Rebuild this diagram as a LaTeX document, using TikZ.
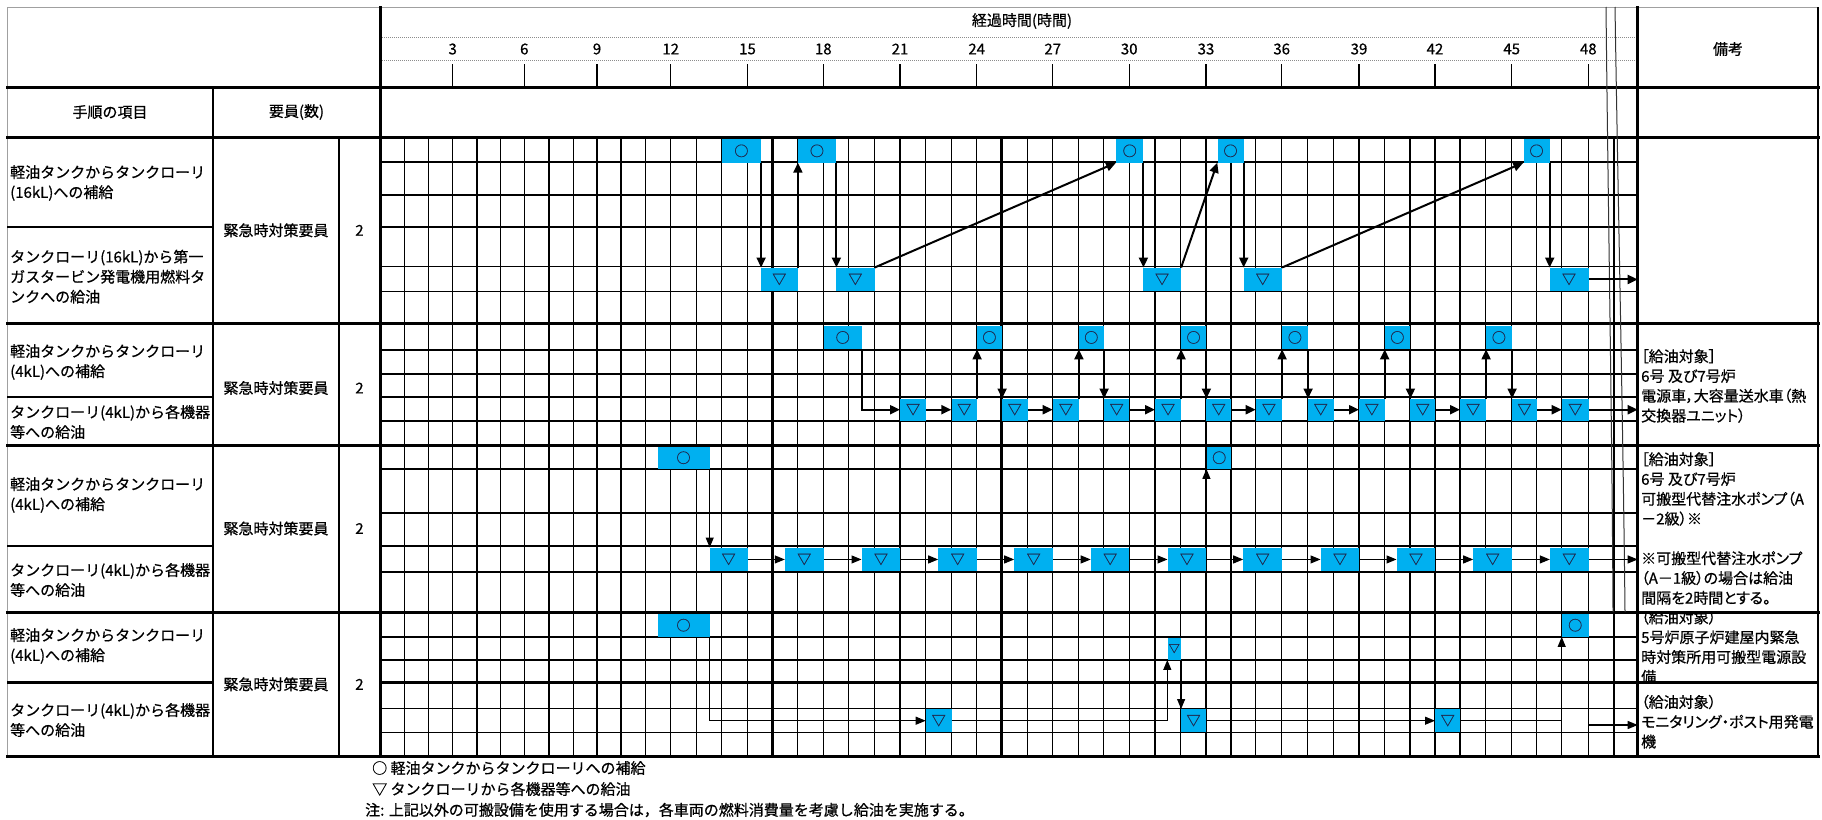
\documentclass[tikz,border=0pt]{standalone}
\usepackage{fontspec}
\setmainfont{Noto Sans CJK JP}[RawFeature={embolden=0.6}]
\newfontfamily\pfont{Noto Sans CJK JP}[RawFeature={+palt;embolden=0.6}]
\usetikzlibrary{arrows.meta}
\definecolor{boxblue}{HTML}{00B0F0}
\definecolor{glyph}{HTML}{1F2A50}
\definecolor{dotgray}{HTML}{8C8C8C}
\definecolor{bordergray}{HTML}{A0A0A0}
\newcommand\gbx[6]{\node[gbox, minimum width={#4-#3}, minimum height={#6-#5}] (#1) at (#3,#5) {#2};}
\begin{document}
\begin{tikzpicture}[x=1pt,y=-1pt,
  gbox/.style={fill=boxblue, inner sep=0pt, anchor=north west, text=glyph, font=\fontsize{14}{14}\selectfont},
  arrA/.style={line width=2pt, -{Triangle[length=10pt,width=9pt]}},
  arrC/.style={line width=1.1pt, -{Triangle[length=10pt,width=8pt]}},
  ltxt/.style={font=\fontsize{15}{20}\selectfont, align=left, anchor=west, inner sep=0pt},
  rtxt/.style={font=\pfont\fontsize{15}{19.8}\selectfont, align=left, anchor=west, inner sep=0pt},
  ctxt/.style={font=\fontsize{15}{18}\selectfont, inner sep=0pt},
  hlab/.style={font=\fontsize{15}{15}\selectfont, inner sep=0pt},
  secline/.style={line width=3pt, line cap=rect},
  colline/.style={line width=2.6pt, line cap=rect},
  divline/.style={line width=2.2pt},
  brk/.style={line width=1pt, black!80}
]
\useasboundingbox (0,0) rectangle (1822,819);
\fill[white] (0,0) rectangle (1822,819);

% ---------- grid ----------
\foreach \x/\w in {404.3/1.2, 428.7/1.2, 452.7/1.2, 477/1.2, 500.7/1.2, 524.3/1.2, 549/1.2, 573.3/1.2, 597/2.6, 621/1.2, 645.3/1.2, 670.7/1.2, 696.3/1.2, 721.7/1.2, 747.5/1.2, 772.5/2.6, 797.5/1.2, 823.3/1.2, 848.8/1.2, 874.3/1.2, 900/1.2, 925.7/1.2, 951.3/1.2, 976.7/1.2, 1001.7/2.6, 1027.3/1.2, 1052.7/1.2, 1078.5/1.2, 1103.7/1.2, 1129.2/1.2, 1155/1.2, 1180.7/1.2, 1206/2.6, 1231/1.6, 1255.7/1.2, 1281.7/1.2, 1307.7/1.2, 1333.3/1.2, 1359/1.2, 1384.3/1.2, 1410/1.2, 1435/2.6, 1460/1.2, 1485.7/1.2, 1511.7/1.2, 1536.7/1.2, 1561.7/1.2, 1588.3/1.2, 1614/1.2}
  \draw[line width=\w pt] (\x,137.3) -- (\x,756.7);
\foreach \y/\w in {162.3/1.8, 195/1.2, 226.7/2.2, 266.7/1.2, 291.7/1.2, 350/1.8, 374/1.2, 397/2.2, 421/1.2, 469/1.8, 513.3/1.8, 546/2.2, 572/1.2, 636.7/1.8, 660/1.2, 682.5/2.2, 708.3/1.2, 732.7/1.2}
  \draw[line width=\w pt] (380,\y) -- (1637.7,\y);

% ---------- header ----------
\draw[dotgray, line width=0.8pt, dash pattern=on 1pt off 1pt] (380,37.7) -- (1637.7,37.7);
\draw[dotgray, line width=0.8pt, dash pattern=on 1pt off 1pt] (380,60) -- (1637.7,60);
\foreach \x/\t/\w in {452.7/3/1.2, 524.3/6/1.2, 597/9/2.6, 670.7/12/1.2, 747.5/15/1.2, 823.3/18/1.2, 900/21/1.2, 976.7/24/1.2, 1052.7/27/1.2, 1129.2/30/1.2, 1206/33/2.6, 1281.7/36/1.2, 1359/39/1.2, 1435/42/2.6, 1511.7/45/1.2, 1588.3/48/1.2}{
  \draw[line width=\w pt] (\x,64) -- (\x,87);
  \node[hlab] (hl\t) at (\x,49) {\t};
}
\node[ctxt] (title) at (1022,21) {経過時間(時間)};
\node[ctxt] (biko) at (1728,49) {備考};
\node[ctxt] (hdr1) at (110,112) {手順の項目};
\node[ctxt] (hdr2) at (296.5,112) {要員(数)};

% ---------- table frame ----------
\draw[bordergray, line width=1pt] (7,7) -- (1818,7);
\draw[bordergray, line width=1pt] (7,7) -- (7,756.7);
\draw[line width=1.2pt] (1818,7) -- (1818,756.7);
\foreach \y in {87,137.3,323.3,445,612,756.7}
  \draw[secline] (7,\y) -- (1818,\y);
\foreach \y in {226.7,397,546,682.5}
  \draw[divline] (7,\y) -- (213,\y);
\draw[divline] (1637.7,682.5) -- (1818,682.5);
\draw[colline] (213,87) -- (213,756.7);
\draw[colline] (339,137.3) -- (339,756.7);
\draw[secline] (380,7) -- (380,756.7);
\draw[secline] (1637.7,7) -- (1637.7,756.7);
\coordinate (chartend) at (1637.7,0);

% ---------- break lines ----------
\draw[brk] (1606,7) .. controls (1608,200) and (1612,420) .. (1613,612);
\draw[brk] (1615,7) .. controls (1618,200) and (1623,420) .. (1625,612);

% ---------- left column texts ----------
\node[ltxt] (s1a) at (10,183) {軽油タンクからタンクローリ\\(16kL)への補給};
\node[ltxt] (s1b) at (10,276.7) {タンクローリ(16kL)から第一\\ガスタービン発電機用燃料タ\\ンクへの給油};
\node[ltxt] (s2a) at (10,362) {軽油タンクからタンクローリ\\(4kL)への補給};
\node[ltxt] (s2b) at (10,422) {タンクローリ(4kL)から各機器\\等への給油};
\node[ltxt] (s3a) at (10,495) {軽油タンクからタンクローリ\\(4kL)への補給};
\node[ltxt] (s3b) at (10,580) {タンクローリ(4kL)から各機器\\等への給油};
\node[ltxt] (s4a) at (10,646) {軽油タンクからタンクローリ\\(4kL)への補給};
\node[ltxt] (s4b) at (10,720) {タンクローリ(4kL)から各機器\\等への給油};
\foreach \n/\y in {1/230.3, 2/388, 3/528.5, 4/684.3}{
  \node[ctxt] (staff\n) at (276,\y) {緊急時対策要員};
  \node[ctxt] (num\n) at (359.5,\y) {2};
}

% ---------- right column texts ----------
\node[rtxt] (r2) at (1641,386) {［給油対象］\\6号 及び7号炉\\電源車，大容量送水車（熱\\交換器ユニット）};
\node[rtxt] (r3) at (1641,528.5) {［給油対象］\\6号 及び7号炉\\可搬型代替注水ポンプ（A\\－2級）※\\[19.8pt]※可搬型代替注水ポンプ\\（A－1級）の場合は給油\\間隔を2時間とする。};
\begin{scope}
\clip (1639,613.5) rectangle (1817,681.4);
\node[rtxt] (r4a) at (1641,647) {（給油対象）\\5号炉原子炉建屋内緊急\\時対策所用可搬型電源設\\備};
\end{scope}
\node[rtxt] (r4b) at (1641,721.7) {（給油対象）\\モニタリング・ポスト用発電\\機};

% ---------- section 1 ----------
\gbx{s1o1}{○}{721.7}{760.7}{139}{162.3}
\gbx{s1o2}{○}{797.5}{836}{139}{162.3}
\gbx{s1o3}{○}{1116}{1143}{139}{162.3}
\gbx{s1o4}{○}{1217.3}{1243.3}{139}{162.3}
\gbx{s1o5}{○}{1523.3}{1549.3}{139}{162.3}
\gbx{s1v1}{▽}{760.7}{797.5}{267.5}{291}
\gbx{s1v2}{▽}{836}{874.3}{267.5}{291}
\gbx{s1v3}{▽}{1143}{1180.7}{267.5}{291}
\gbx{s1v4}{▽}{1243.3}{1281.7}{267.5}{291}
\gbx{s1v5}{▽}{1549.3}{1588.3}{267.5}{291}
\draw[arrA] (s1o1.south east) -- (s1o1.south east |- s1v1.north);
\draw[arrA] (s1v1.north east) -- (s1v1.north east |- s1o2.south);
\draw[arrA] (s1o2.south east) -- (s1o2.south east |- s1v2.north);
\draw[arrA] (s1v2.north east) -- (s1o3.south west);
\draw[arrA] (s1o3.south east) -- (s1o3.south east |- s1v3.north);
\draw[arrA] (s1v3.north east) -- (s1o4.south west);
\draw[arrA] (s1o4.south east) -- (s1o4.south east |- s1v4.north);
\draw[arrA] (s1v4.north east) -- (s1o5.south west);
\draw[arrA] (s1o5.south east) -- (s1o5.south east |- s1v5.north);
\draw[arrA] (s1v5.east) -- (s1v5.east -| chartend);

% ---------- section 2 ----------
\gbx{s2oa}{○}{823.3}{861.7}{325.5}{349}
\gbx{s2ob}{○}{976.7}{1001.7}{325.5}{349}
\gbx{s2oc}{○}{1078.5}{1103.7}{325.5}{349}
\gbx{s2od}{○}{1180.7}{1206}{325.5}{349}
\gbx{s2oe}{○}{1281.7}{1307.7}{325.5}{349}
\gbx{s2of}{○}{1384.3}{1410}{325.5}{349}
\gbx{s2og}{○}{1485.7}{1511.7}{325.5}{349}
\foreach \h/\a/\b in {21/900/925.7, 23/951.3/976.7, 25/1001.7/1027.3, 27/1052.7/1078.5, 29/1103.7/1129.2, 31/1155/1180.7, 33/1206/1231, 35/1255.7/1281.7, 37/1307.7/1333.3, 39/1359/1384.3, 41/1410/1435, 43/1460/1485.7, 45/1511.7/1536.7, 47/1561.7/1588.3}
  {\gbx{s2v\h}{▽}{\a}{\b}{398.5}{420.5}}
\draw[arrA] (s2oa.south east) |- (s2v21.west);
\foreach \a/\b in {21/23, 25/27, 29/31, 33/35, 37/39, 41/43, 45/47}
  \draw[arrA] (s2v\a.east) -- (s2v\b.west);
\foreach \a/\o/\b in {23/b/25, 27/c/29, 31/d/33, 35/e/37, 39/f/41, 43/g/45}{
  \draw[arrA] (s2v\a.north east) -- (s2v\a.north east |- s2o\o.south);
  \draw[arrA] (s2o\o.south east) -- (s2o\o.south east |- s2v\b.north);
}
\draw[arrA] (s2v47.east) -- (s2v47.east -| chartend);

% ---------- section 3 ----------
\gbx{s3o1}{○}{657.3}{709.3}{446.5}{468.5}
\gbx{s3o2}{○}{1207}{1231}{446.5}{468.5}
\foreach \h/\a/\b in {15/709.3/747.5, 18/784.8/823.3, 21/861.5/900, 24/938.2/976.7, 27/1014.2/1052.7, 30/1090.7/1129.2, 33/1167.5/1206, 36/1243.2/1281.7, 39/1320.5/1359, 42/1396.5/1435, 45/1473.2/1511.7, 48/1549.8/1588.3}
  {\gbx{s3v\h}{▽}{\a}{\b}{547.5}{571}}
\draw[arrC] (s3o1.south east) -- (s3o1.south east |- s3v15.north);
\foreach \a/\b in {15/18, 18/21, 21/24, 24/27, 27/30, 30/33, 33/36, 36/39, 39/42, 42/45, 45/48}
  \draw[arrC] (s3v\a.east) -- (s3v\b.west);
\draw[arrC] (s3v33.north east) -- (s3v33.north east |- s3o2.south);
\draw[arrC] (s3v48.east) -- (s3v48.east -| chartend);

% ---------- section 4 ----------
\gbx{s4o1}{○}{657.3}{709.3}{613.5}{636.5}
\gbx{s4o2}{○}{1561.7}{1588.3}{613.5}{636.5}
\node[gbox, font=\fontsize{11}{11}\selectfont, minimum width=13.4, minimum height=22] (s4sv) at (1167.3,637.5) {▽};
\gbx{s4v22}{▽}{925.7}{951.3}{709}{732}
\gbx{s4v32}{▽}{1180.7}{1206}{709}{732}
\gbx{s4v42}{▽}{1435}{1460}{709}{732}
\draw[arrC] (s4o1.south east) |- (s4v22.west);
\draw[arrC] (s4v22.east) -| (s4sv.south west);
\draw[arrC] (s4sv.south east) -- (s4sv.south east |- s4v32.north);
\draw[arrC] (s4v32.east) -- (s4v42.west);
\draw[arrC] (s4v42.east) -| (s4o2.south west);
\coordinate (s4free) at (1588.3,725);
\draw[arrC] (s4free) -- (s4free -| chartend);

% ---------- legend ----------
\node[ltxt] (leg1) at (372,768) {○ 軽油タンクからタンクローリへの補給};
\node[ltxt] (leg2) at (372,789) {▽ タンクローリから各機器等への給油};
\node[ltxt] (leg3) at (365,810) {注: 上記以外の可搬設備を使用する場合は，各車両の燃料消費量を考慮し給油を実施する。};
\end{tikzpicture}
\end{document}
